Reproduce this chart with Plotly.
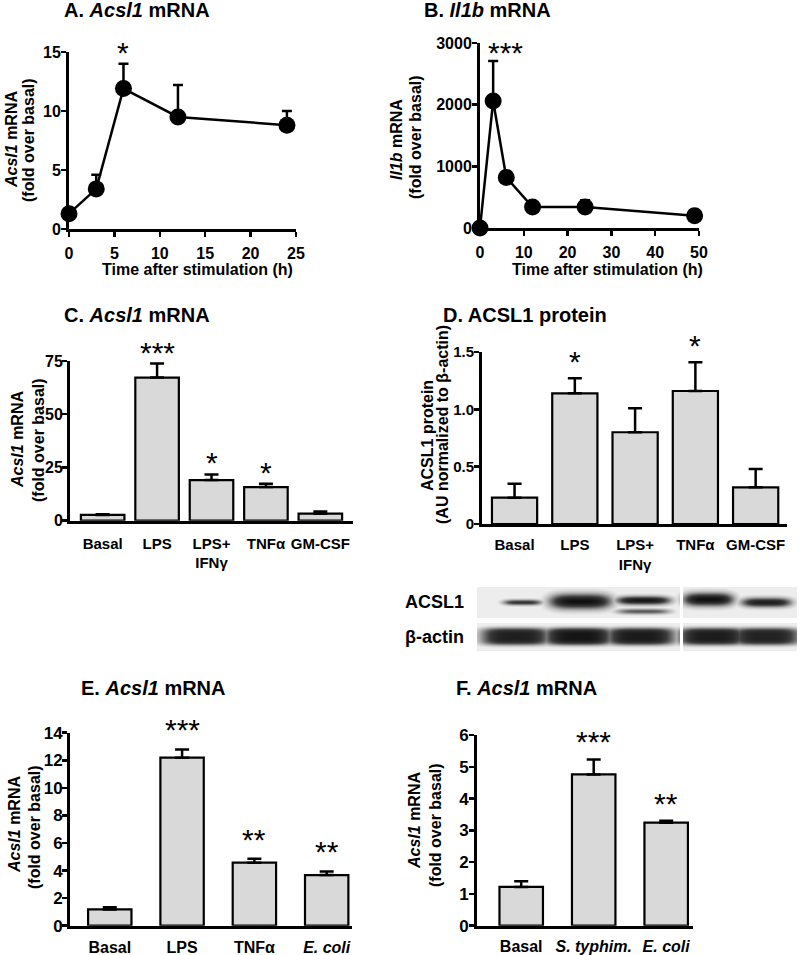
import numpy as np
import plotly.graph_objects as go

W, H = 800, 955
FONT = "Liberation Sans"

# ---------------- data ----------------
# A. Acsl1 mRNA time course
a_time = [0, 3, 6, 12, 24]
a_mean = [1.3, 3.4, 11.9, 9.5, 8.8]
a_sem = [0.3, 1.2, 2.1, 2.7, 1.2]
a_sig = ["", "", "*", "", ""]

# B. Il1b mRNA time course
b_time = [0, 3, 6, 12, 24, 49]
b_mean = [0, 2060, 820, 340, 340, 200]
b_sem = [0, 650, 90, 40, 110, 90]
b_sig = ["", "***", "", "", "", ""]

# C. Acsl1 mRNA by stimulus
c_cats = ["Basal", "LPS", "LPS+IFNγ", "TNFα", "GM-CSF"]
c_labels = ["Basal", "LPS", "LPS+<br>IFNγ", "TNFα", "GM-CSF"]
c_mean = [2.7, 67.2, 19.1, 15.8, 3.3]
c_sem = [0.3, 6.6, 2.6, 1.5, 1.0]
c_sig = ["", "***", "*", "*", ""]

# D. ACSL1 protein
d_cats = ["Basal", "LPS", "LPS+IFNγ", "TNFα", "GM-CSF"]
d_labels = ["Basal", "LPS", "LPS+<br>IFNγ", "TNFα", "GM-CSF"]
d_mean = [0.23, 1.14, 0.80, 1.16, 0.32]
d_sem = [0.12, 0.13, 0.21, 0.25, 0.16]
d_sig = ["", "*", "", "*", ""]

# Western blot lane intensities (relative darkness)
blot_lanes = ["Basal", "LPS", "LPS+IFNγ", "TNFα", "GM-CSF"]
acsl1_intensity = [0.75, 1.0, 0.95, 1.0, 0.9]
acsl1_lower_band = [0.0, 0.0, 0.6, 0.0, 0.0]
actin_intensity = [0.9, 0.97, 0.93, 0.92, 0.88]

# E. Acsl1 mRNA
e_cats = ["Basal", "LPS", "TNFα", "E. coli"]
e_labels = ["Basal", "LPS", "TNFα", "<i>E. coli</i>"]
e_mean = [1.18, 12.19, 4.57, 3.67]
e_sem = [0.15, 0.60, 0.29, 0.27]
e_sig = ["", "***", "**", "**"]

# F. Acsl1 mRNA
f_cats = ["Basal", "S. typhim.", "E. coli"]
f_labels = ["Basal", "<i>S. typhim.</i>", "<i>E. coli</i>"]
f_mean = [1.22, 4.76, 3.24]
f_sem = [0.18, 0.47, 0.06]
f_sig = ["", "***", "**"]

# ---------------- helpers ----------------
def dx(p):
    return p / W

def dy(p):
    return 1 - p / H

BAR_FILL = "#d9d9d9"

def err(sem, width):
    return dict(type="data", array=sem, arrayminus=[0] * len(sem), symmetric=False,
                color="black", thickness=2.5, width=width)

fig = go.Figure()

# A
fig.add_trace(go.Scatter(x=a_time, y=a_mean, error_y=err(a_sem, 5), mode="lines+markers",
                         line=dict(color="black", width=2.5),
                         marker=dict(size=17, color="black"),
                         cliponaxis=False, xaxis="x", yaxis="y", hoverinfo="skip"))
# B
fig.add_trace(go.Scatter(x=b_time, y=b_mean, error_y=err(b_sem, 5), mode="lines+markers",
                         line=dict(color="black", width=2.5),
                         marker=dict(size=17, color="black"),
                         cliponaxis=False, xaxis="x2", yaxis="y2", hoverinfo="skip"))

def bars(cats, mean, sem, ax, width):
    fig.add_trace(go.Bar(x=cats, y=mean, error_y=err(sem, 7), width=width,
                         marker=dict(color=BAR_FILL, line=dict(color="black", width=2.2)),
                         cliponaxis=False, xaxis="x" + ax, yaxis="y" + ax, hoverinfo="skip"))

bars(c_cats, c_mean, c_sem, "3", 0.8)
bars(d_cats, d_mean, d_sem, "4", 0.75)
bars(e_cats, e_mean, e_sem, "5", 0.6)
bars(f_cats, f_mean, f_sem, "6", 0.6)

# ---------------- western blot image ----------------
bx = np.arange(465, 798)
by = np.arange(586, 652)
X, Y = np.meshgrid(bx, by)
segments = [(477, 679), (683, 797)]
rows = [(587, 617), (623, 650)]
mask = np.zeros(X.shape, dtype=bool)
for (x0, x1) in segments:
    for (y0, y1) in rows:
        mask |= (X >= x0) & (X <= x1) & (Y >= y0) & (Y <= y1)

lane_c = [522, 580, 643, 708, 766]
acsl1_hw = [20, 32, 28, 26, 26]
acsl1_yc = [602, 601, 600, 599, 602]
acsl1_sv = [3.0, 8.0, 4.5, 7.0, 5.0]
actin_c = [515, 578, 640, 712, 765]
band = np.full(X.shape, 0.05)
for c, hw, yc, sv, k, low in zip(lane_c, acsl1_hw, acsl1_yc, acsl1_sv, acsl1_intensity, acsl1_lower_band):
    h = np.exp(-(np.abs(X - c) / hw) ** 4)
    band = np.maximum(band, k * h * np.exp(-((Y - yc) / sv) ** 2))
    if low > 0:
        band = np.maximum(band, low * h * np.exp(-((Y - 611) / 3.0) ** 2))
for c, k in zip(actin_c, actin_intensity):
    h = np.exp(-(np.abs(X - c) / 36) ** 4)
    band = np.maximum(band, k * h * np.exp(-((Y - 636) / 9.0) ** 4))
z = np.where(mask, band, np.nan)

fig.add_trace(go.Heatmap(x=bx, y=by, z=z, zmin=0, zmax=1, showscale=False, hoverinfo="skip",
                         colorscale=[[0, "#ffffff"], [0.05, "#ededed"], [0.3, "#b4b4b4"],
                                     [0.7, "#3c3c3c"], [1, "#101010"]],
                         xaxis="x7", yaxis="y7"))

# ---------------- axes ----------------
def axis(domain, rng, size=16, ticks="outside", **kw):
    d = dict(domain=domain, range=rng, showline=True, linewidth=3, linecolor="black",
             ticks=ticks, ticklen=5, tickwidth=2.5, tickcolor="black", showgrid=False,
             zeroline=False, fixedrange=True, automargin=False,
             tickfont=dict(family=FONT, size=size, color="black", weight="bold"))
    d.update(kw)
    return d

lay = {}
# A
lay["xaxis"] = axis([dx(69), dx(296)], [0, 25], dtick=5, anchor="y", ticklabelstandoff=3)
lay["yaxis"] = axis([dy(229), dy(52)], [0, 15], dtick=5, anchor="x", ticklabelstandoff=-3)
# B
lay["xaxis2"] = axis([dx(480), dx(699)], [0, 50], dtick=10, anchor="y2", ticklabelstandoff=3)
lay["yaxis2"] = axis([dy(228), dy(43)], [0, 3000], dtick=1000, anchor="x2", ticklabelstandoff=-3)
# C
lay["xaxis3"] = axis([dx(70), dx(353)], [-0.6, 4.6], size=15, ticks="", anchor="y3",
                     type="category", tickvals=c_cats, ticktext=c_labels, ticklabelstandoff=7)
lay["yaxis3"] = axis([dy(520.7), dy(361)], [0, 75], size=16, dtick=25, anchor="x3", ticklabelstandoff=-4)
# D
lay["xaxis4"] = axis([dx(482), dx(787)], [-0.54, 4.52], size=15, ticks="", anchor="y4",
                     type="category", tickvals=d_cats, ticktext=d_labels, ticklabelstandoff=5)
lay["yaxis4"] = axis([dy(524), dy(352)], [0, 1.5], size=15, anchor="x4", ticklabelstandoff=-3,
                     tickvals=[0, 0.5, 1.0, 1.5], ticktext=["0", "0.5", "1.0", "1.5"])
# E
lay["xaxis5"] = axis([dx(70), dx(352)], [-0.55, 3.35], size=16, ticks="", anchor="y5",
                     type="category", tickvals=e_cats, ticktext=e_labels, ticklabelstandoff=5)
lay["yaxis5"] = axis([dy(925.7), dy(732.7)], [0, 14], size=17, dtick=2, anchor="x5", ticklabelstandoff=-4)
# F
lay["xaxis6"] = axis([dx(477), dx(693)], [-0.61, 2.37], size=16, ticks="", anchor="y6",
                     type="category", tickvals=f_cats, ticktext=f_labels, ticklabelstandoff=4)
lay["yaxis6"] = axis([dy(925.7), dy(735)], [0, 6], size=17, dtick=1, anchor="x6", ticklabelstandoff=-3)
# blot
lay["xaxis7"] = dict(domain=[dx(465), dx(797)], range=[465, 797], visible=False, anchor="y7", fixedrange=True)
lay["yaxis7"] = dict(domain=[dy(651), dy(586)], range=[651, 586], visible=False, anchor="x7", fixedrange=True)

fig.update_layout(template="none", **lay)

# ---------------- annotations ----------------
ann = []

def text(x, y, s, size=16, angle=0, xanchor="center", yanchor="middle", bold=True):
    ann.append(dict(x=dx(x), y=dy(y), xref="paper", yref="paper", text=s, showarrow=False,
                    textangle=angle, xanchor=xanchor, yanchor=yanchor,
                    font=dict(family=FONT, size=size, color="black",
                              weight="bold" if bold else "normal")))

# panel titles
text(137, 10, "A. <i>Acsl1</i> mRNA", 20)
text(487, 10, "B. <i>Il1b</i> mRNA", 20)
text(137, 315, "C. <i>Acsl1</i> mRNA", 20)
text(525, 315, "D. ACSL1 protein", 20)
text(153, 688, "E. <i>Acsl1</i> mRNA", 20)
text(526, 688, "F. <i>Acsl1</i> mRNA", 20)

# x axis titles
text(197, 270, "Time after stimulation (h)", 16)
text(607, 270, "Time after stimulation (h)", 16)

# y axis titles
text(12, 140, "<i>Acsl1</i> mRNA", 16, -90)
text(29, 140, "(fold over basal)", 16, -90)
text(397, 140, "<i>Il1b</i> mRNA", 16, -90)
text(415, 137, "(fold over basal)", 16, -90)
text(17, 440, "<i>Acsl1</i> mRNA", 16, -90)
text(38, 440, "(fold over basal)", 16, -90)
text(428, 436, "ACSL1 protein", 16, -90)
text(443, 425, "(AU normalized to β-actin)", 16, -90)
text(14, 825, "<i>Acsl1</i> mRNA", 16, -90)
text(34, 827, "(fold over basal)", 16, -90)
text(414, 820, "<i>Acsl1</i> mRNA", 16, -90)
text(435, 825, "(fold over basal)", 16, -90)

# blot labels
text(403, 602, "ACSL1", 18, xanchor="left")
text(403, 637, "β-actin", 18, xanchor="left")

# significance stars
def stars(xs, means, sems, sigs, ax, shift, xanchor="center", xshift=0):
    for x, m, s, g in zip(xs, means, sems, sigs):
        if g:
            ann.append(dict(x=x, y=m + s, xref="x" + ax, yref="y" + ax, text=g, showarrow=False,
                            xanchor=xanchor, yanchor="bottom", yshift=shift, xshift=xshift,
                            font=dict(family=FONT, size=30, color="black")))

stars(a_time, a_mean, a_sem, a_sig, "", -7)
stars(b_time, b_mean, b_sem, b_sig, "2", -10, xanchor="left", xshift=-7)
stars(c_cats, c_mean, c_sem, c_sig, "3", -7)
stars(d_cats, d_mean, d_sem, d_sig, "4", -2)
stars(e_cats, e_mean, e_sem, e_sig, "5", 1)
stars(f_cats, f_mean, f_sem, f_sig, "6", -1)

fig.update_layout(annotations=ann, width=W, height=H, margin=dict(l=0, r=0, t=0, b=0, pad=0),
                  showlegend=False, plot_bgcolor="white", paper_bgcolor="white", bargap=0)

fig.write_html("out.html", config={"displayModeBar": False, "staticPlot": True},
               post_script="document.body.style.margin='0px';")
